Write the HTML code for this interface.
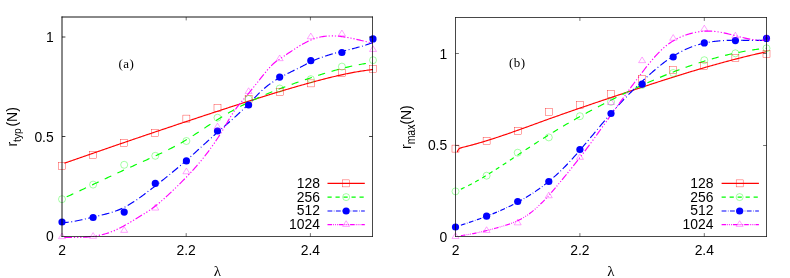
<!DOCTYPE html>
<html><head><meta charset="utf-8"><title>chart</title>
<style>
html,body{margin:0;padding:0;background:#fff;}
body{width:790px;height:278px;overflow:hidden;}
svg{display:block;will-change:transform;opacity:0.999;}
.s{font-family:"Liberation Sans",sans-serif;font-size:13.9px;fill:#000;}
.t{font-family:"Liberation Serif",serif;font-size:13px;letter-spacing:0.5px;fill:#000;}
.g{font-family:"Liberation Serif",serif;font-size:15px;fill:#000;}
</style></head><body>
<svg width="790" height="278" viewBox="0 0 790 278">
<rect width="790" height="278" fill="#fff"/>
<path d="M64.4,163.24 L65.6,162.82 L66.8,162.4 L68,161.98 L69.2,161.55 L70.4,161.13 L71.6,160.71 L72.8,160.29 L74,159.87 L75.2,159.45 L76.4,159.03 L77.6,158.61 L78.8,158.19 L80,157.77 L81.2,157.36 L82.4,156.94 L83.6,156.52 L84.8,156.1 L86,155.68 L87.2,155.26 L88.4,154.85 L89.6,154.43 L90.8,154.01 L92,153.6 L93.2,153.18 L94.4,152.76 L95.6,152.35 L96.8,151.93 L98,151.51 L99.2,151.1 L100.4,150.68 L101.6,150.27 L102.8,149.85 L104,149.44 L105.2,149.03 L106.4,148.61 L107.6,148.2 L108.8,147.78 L110,147.37 L111.2,146.96 L112.4,146.54 L113.6,146.13 L114.8,145.72 L116,145.31 L117.2,144.89 L118.4,144.48 L119.6,144.07 L120.8,143.66 L122,143.25 L123.2,142.84 L124.4,142.42 L125.6,142.01 L126.8,141.6 L128,141.19 L129.2,140.78 L130.4,140.37 L131.6,139.96 L132.8,139.56 L134,139.15 L135.2,138.74 L136.4,138.33 L137.6,137.92 L138.8,137.51 L140,137.1 L141.2,136.7 L142.4,136.29 L143.6,135.88 L144.8,135.48 L146,135.07 L147.2,134.66 L148.4,134.26 L149.6,133.85 L150.8,133.44 L152,133.04 L153.2,132.63 L154.4,132.23 L155.6,131.82 L156.8,131.42 L158,131.01 L159.2,130.61 L160.4,130.21 L161.6,129.8 L162.8,129.4 L164,128.99 L165.2,128.59 L166.4,128.19 L167.6,127.79 L168.8,127.38 L170,126.98 L171.2,126.58 L172.4,126.18 L173.6,125.78 L174.8,125.37 L176,124.97 L177.2,124.57 L178.4,124.17 L179.6,123.77 L180.8,123.37 L182,122.97 L183.2,122.57 L184.4,122.17 L185.6,121.77 L186.8,121.37 L188,120.98 L189.2,120.58 L190.4,120.18 L191.6,119.78 L192.8,119.38 L194,118.98 L195.2,118.59 L196.4,118.19 L197.6,117.79 L198.8,117.4 L200,117 L201.2,116.6 L202.4,116.21 L203.6,115.81 L204.8,115.42 L206,115.02 L207.2,114.63 L208.4,114.23 L209.6,113.84 L210.8,113.44 L212,113.05 L213.2,112.65 L214.4,112.26 L215.6,111.87 L216.8,111.47 L218,111.08 L219.2,110.69 L220.4,110.3 L221.6,109.9 L222.8,109.51 L224,109.12 L225.2,108.73 L226.4,108.34 L227.6,107.95 L228.8,107.56 L230,107.17 L231.2,106.78 L232.4,106.39 L233.6,106 L234.8,105.61 L236,105.22 L237.2,104.84 L238.4,104.45 L239.6,104.06 L240.8,103.68 L242,103.29 L243.2,102.91 L244.4,102.52 L245.6,102.14 L246.8,101.75 L248,101.37 L249.2,100.99 L250.4,100.61 L251.6,100.23 L252.8,99.85 L254,99.47 L255.2,99.09 L256.4,98.71 L257.6,98.34 L258.8,97.96 L260,97.58 L261.2,97.21 L262.4,96.83 L263.6,96.46 L264.8,96.09 L266,95.72 L267.2,95.35 L268.4,94.98 L269.6,94.61 L270.8,94.24 L272,93.87 L273.2,93.5 L274.4,93.14 L275.6,92.77 L276.8,92.41 L278,92.05 L279.2,91.69 L280.4,91.33 L281.6,90.97 L282.8,90.61 L284,90.25 L285.2,89.89 L286.4,89.54 L287.6,89.18 L288.8,88.83 L290,88.48 L291.2,88.13 L292.4,87.78 L293.6,87.43 L294.8,87.08 L296,86.73 L297.2,86.39 L298.4,86.05 L299.6,85.7 L300.8,85.36 L302,85.02 L303.2,84.68 L304.4,84.35 L305.6,84.01 L306.8,83.67 L308,83.34 L309.2,83.01 L310.4,82.68 L311.6,82.35 L312.8,82.02 L314,81.69 L315.2,81.37 L316.4,81.05 L317.6,80.73 L318.8,80.41 L320,80.09 L321.2,79.77 L322.4,79.46 L323.6,79.15 L324.8,78.84 L326,78.54 L327.2,78.24 L328.4,77.93 L329.6,77.64 L330.8,77.34 L332,77.05 L333.2,76.76 L334.4,76.48 L335.6,76.19 L336.8,75.92 L338,75.64 L339.2,75.37 L340.4,75.1 L341.6,74.83 L342.8,74.57 L344,74.32 L345.2,74.06 L346.4,73.81 L347.6,73.57 L348.8,73.33 L350,73.09 L351.2,72.86 L352.4,72.63 L353.6,72.41 L354.8,72.19 L356,71.98 L357.2,71.77 L358.4,71.57 L359.6,71.37 L360.8,71.18 L362,70.99 L363.2,70.81 L364.4,70.63 L365.6,70.46 L366.8,70.3 L368,70.14 L369.2,69.98 L370.4,69.83 L371.6,69.69 L372.8,69.56 L373,69.53" fill="none" stroke="#ff0000" stroke-width="1.15"/>
<path d="M66.7,196.84 L67.9,196.29 L69.1,195.73 L70.3,195.18 L71.5,194.62 L72.7,194.06 L73.3,193.78 M79.4,190.92 L80.6,190.36 L81.8,189.8 L83,189.23 L84.2,188.67 L85.4,188.1 L86,187.82 M92.1,184.94 L93.3,184.37 L94.5,183.81 L95.7,183.24 L96.9,182.67 L98.1,182.11 L98.6,181.87 M104.7,179 L105.9,178.44 L107.1,177.88 L108.3,177.31 L109.5,176.75 L110.7,176.19 L111.3,175.91 M117.4,173.08 L118.6,172.53 L119.8,171.98 L121,171.43 L122.2,170.88 L123.4,170.33 L124,170.06 M130.2,167.25 L131.4,166.71 L132.6,166.17 L133.8,165.64 L135,165.1 L136.2,164.56 L136.8,164.29 M142.9,161.55 L144.1,161.01 L145.3,160.47 L146.5,159.93 L147.7,159.38 L148.9,158.84 L149.5,158.57 M155.7,155.72 L156.9,155.16 L158.1,154.61 L159.3,154.04 L160.5,153.48 L161.7,152.91 L162.2,152.67 M168.3,149.69 L169.5,149.09 L170.7,148.48 L171.9,147.87 L173.1,147.25 L174.3,146.62 L174.8,146.36 M180.7,143.14 L181.9,142.46 L183.1,141.77 L184.3,141.06 L185.5,140.35 L186.7,139.63 L186.9,139.51 M192.7,135.89 L193.9,135.11 L195.1,134.33 L196.3,133.55 L197.5,132.76 L198.7,131.97 M204.4,128.17 L205.6,127.37 L206.8,126.57 L208,125.77 L209.2,124.97 L210.4,124.18 M216.1,120.47 L217.3,119.71 L218.5,118.95 L219.7,118.2 L220.9,117.46 L222.1,116.73 L222.2,116.67 M228,113.23 L229.2,112.54 L230.4,111.86 L231.6,111.18 L232.8,110.51 L234,109.85 L234.3,109.69 M240.3,106.48 L241.5,105.85 L242.7,105.24 L243.9,104.63 L245.1,104.02 L246.3,103.42 L246.7,103.23 M252.8,100.28 L254,99.72 L255.2,99.16 L256.4,98.61 L257.6,98.06 L258.8,97.52 L259.4,97.25 M265.6,94.54 L266.8,94.04 L268,93.53 L269.2,93.03 L270.4,92.53 L271.6,92.04 L272.3,91.76 M278.6,89.25 L279.8,88.79 L281,88.33 L282.2,87.87 L283.4,87.41 L284.6,86.96 L285.3,86.7 M291.7,84.36 L292.9,83.93 L294.1,83.51 L295.3,83.08 L296.5,82.66 L297.7,82.24 L298.5,81.96 M304.9,79.78 L306.1,79.38 L307.3,78.98 L308.5,78.58 L309.7,78.18 L310.9,77.79 L311.8,77.49 M318.2,75.42 L319.4,75.04 L320.6,74.66 L321.8,74.29 L323,73.91 L324.2,73.55 L325.1,73.27 M331.6,71.34 L332.8,70.99 L334,70.65 L335.2,70.31 L336.4,69.98 L337.6,69.65 L338.6,69.38 M345.1,67.7 L346.3,67.41 L347.5,67.12 L348.7,66.84 L349.9,66.56 L351.1,66.29 L352.2,66.05 M358.8,64.69 L360,64.47 L361.2,64.25 L362.4,64.04 L363.6,63.83 L364.8,63.64 L365.9,63.46 M372.6,62.53 L373,62.49" fill="none" stroke="#00ff00" stroke-width="1.15"/>
<path d="M64.4,222.6 L65.6,222.51 L66.8,222.4 L68,222.27 L68.7,222.19 M71.3,221.83 L72.2,221.69 M74.7,221.26 L75.9,221.03 L77.1,220.8 L78.3,220.55 L79.5,220.29 L80.7,220.03 L81.9,219.75 L82.4,219.64 M84.9,219.05 L85.7,218.86 M88.2,218.25 L89.4,217.96 L90.6,217.67 L91.8,217.38 L93,217.09 L94.2,216.81 L95.4,216.53 L95.8,216.44 M98.4,215.83 L99.2,215.65 M101.7,215.06 L102.9,214.76 L104.1,214.47 L105.3,214.16 L106.5,213.85 L107.7,213.53 L108.9,213.19 L109.3,213.08 M111.8,212.33 L112.6,212.07 M115.1,211.23 L116.3,210.8 L117.5,210.35 L118.7,209.87 L119.9,209.37 L121.1,208.85 L122.3,208.3 M124.6,207.18 L125.4,206.76 M127.7,205.5 L128.9,204.81 L130.1,204.09 L131.3,203.36 L132.5,202.6 L133.7,201.82 L134.3,201.43 M136.5,199.94 L137.2,199.46 M139.3,197.98 L140.5,197.11 L141.7,196.24 L142.9,195.36 L144.1,194.47 L145.3,193.57 L145.6,193.34 M147.6,191.83 L148.3,191.3 M150.4,189.7 L151.6,188.78 L152.8,187.86 L154,186.94 L155.2,186.01 L156.4,185.08 L156.6,184.92 M158.6,183.36 L159.3,182.81 M161.3,181.24 L162.5,180.29 L163.7,179.33 L164.9,178.37 L166.1,177.41 L167.3,176.44 L167.4,176.36 M169.5,174.66 L170.1,174.17 M172.1,172.53 L173.3,171.54 L174.5,170.54 L175.7,169.54 L176.9,168.53 L178.1,167.52 M180.1,165.82 L180.8,165.22 M182.7,163.59 L183.9,162.55 L185.1,161.51 L186.3,160.46 L187.5,159.4 L188.6,158.42 M190.5,156.73 L191.2,156.11 M193.1,154.4 L194.3,153.31 L195.5,152.23 L196.7,151.14 L197.9,150.05 L198.9,149.14 M200.8,147.41 L201.4,146.86 M203.4,145.04 L204.6,143.94 L205.8,142.85 L207,141.76 L208.2,140.66 L209.1,139.85 M211.1,138.04 L211.7,137.5 M213.6,135.79 L214.8,134.72 L216,133.65 L217.2,132.59 L218.4,131.53 L219.5,130.56 M221.4,128.9 L222.1,128.29 M224,126.64 L225.2,125.59 L226.4,124.55 L227.6,123.5 L228.8,122.46 L229.9,121.49 M231.9,119.73 L232.5,119.2 M234.5,117.42 L235.7,116.34 L236.9,115.25 L238.1,114.15 L239.3,113.04 L240.2,112.2 M242.1,110.41 L242.7,109.84 M244.6,108 L245.8,106.81 L247,105.62 L248.2,104.4 L249.4,103.17 L250.1,102.44 M251.9,100.56 L252.5,99.93 M254.3,98.04 L255.5,96.79 L256.7,95.56 L257.9,94.34 L259.1,93.15 L259.7,92.56 M261.6,90.76 L262.3,90.12 M264.2,88.46 L265.4,87.45 L266.6,86.48 L267.8,85.54 L269,84.64 L270.2,83.76 L270.4,83.62 M272.5,82.16 L273.2,81.69 M275.4,80.28 L276.6,79.54 L277.8,78.82 L279,78.12 L280.2,77.44 L281.4,76.77 L282.2,76.34 M284.4,75.17 L285.2,74.76 M287.5,73.59 L288.7,72.99 L289.9,72.39 L291.1,71.8 L292.3,71.22 L293.5,70.63 L294.5,70.14 M296.9,68.96 L297.6,68.61 M300,67.41 L301.2,66.79 L302.4,66.17 L303.6,65.54 L304.8,64.91 L306,64.27 L306.9,63.81 M309.2,62.63 L310,62.23 M312.3,61.14 L313.5,60.59 L314.7,60.07 L315.9,59.56 L317.1,59.06 L318.3,58.58 L319.5,58.12 M321.9,57.24 L322.8,56.92 M325.2,56.1 L326.4,55.71 L327.6,55.33 L328.8,54.96 L330,54.6 L331.2,54.25 L332.4,53.91 L332.7,53.83 M335.2,53.14 L336,52.92 M338.5,52.27 L339.7,51.96 L340.9,51.65 L342.1,51.35 L343.3,51.05 L344.5,50.76 L345.7,50.46 L346.1,50.36 M348.6,49.74 L349.5,49.52 M352,48.89 L353.2,48.58 L354.4,48.27 L355.6,47.96 L356.8,47.64 L358,47.31 L359.2,46.98 L359.5,46.9 M362,46.18 L362.8,45.94 M365.3,45.18 L366.5,44.79 L367.7,44.4 L368.9,43.99 L370.1,43.57 L371.3,43.14 L372.5,42.7 L372.7,42.62" fill="none" stroke="#0000ff" stroke-width="1.15"/>
<path d="M64.4,237.41 L65.6,237.44 L66.8,237.46 L68,237.49 L69.2,237.51 L70.4,237.52 L71.6,237.53 L72,237.54 M73.9,237.54 L75.1,237.54 M77.1,237.52 L78.3,237.5 M80.2,237.44 L81.4,237.4 M83.2,237.32 L84.4,237.25 L85.6,237.17 L86.8,237.08 L88,236.98 L89.2,236.86 L90.4,236.73 L90.7,236.7 M92.6,236.46 L93.8,236.3 M95.7,236 L96.9,235.79 L97,235.77 M98.8,235.43 L100,235.18 M101.8,234.77 L103,234.47 L104.2,234.15 L105.4,233.82 L106.6,233.46 L107.8,233.08 L109,232.68 M110.8,232.04 L112,231.58 M113.8,230.86 L114.9,230.39 M116.6,229.62 L117.7,229.1 M119.3,228.31 L120.5,227.7 L121.7,227.07 L122.9,226.43 L124.1,225.77 L125.3,225.1 L125.9,224.76 M127.6,223.78 L128.7,223.13 M130.3,222.18 L131.4,221.52 M133,220.56 L134.1,219.89 M135.6,218.97 L136.8,218.24 L138,217.51 L139.2,216.77 L140.4,216.05 L141.6,215.32 L142,215.07 M143.7,214.03 L144.7,213.41 M146.3,212.4 L147.4,211.69 M149,210.64 L150,209.96 M151.5,208.92 L152.7,208.05 L153.9,207.17 L155.1,206.25 L156.3,205.31 L157.4,204.43 M158.9,203.19 L159.9,202.35 M161.3,201.15 L162.2,200.36 M163.7,199.03 L164.6,198.23 M165.9,197.04 L167.1,195.94 L168.3,194.82 L169.5,193.7 L170.7,192.56 L171.4,191.89 M172.8,190.56 L173.7,189.69 M175.1,188.35 L175.9,187.57 M177.4,186.12 L178.2,185.34 M179.5,184.06 L180.7,182.87 L181.9,181.68 L183.1,180.47 L184.3,179.26 L184.8,178.75 M186.2,177.31 L187,176.48 M188.3,175.12 L189.2,174.17 M190.5,172.78 L191.3,171.92 M192.5,170.61 L193.7,169.28 L194.9,167.94 L196.1,166.58 L197.3,165.2 L197.5,164.97 M198.8,163.45 L199.5,162.62 M200.8,161.06 L201.5,160.21 M202.8,158.61 L203.5,157.74 M204.7,156.23 L205.9,154.69 L207.1,153.12 L208.3,151.53 L209.2,150.32 M210.4,148.68 L211,147.85 M212.2,146.17 L212.9,145.18 M214,143.59 L214.7,142.57 M215.7,141.1 L216.9,139.29 L218.1,137.46 L219.3,135.59 L219.8,134.8 M220.8,133.21 L221.4,132.24 M222.5,130.44 L223.1,129.45 M224.1,127.77 L224.7,126.75 M225.6,125.22 L226.8,123.17 L228,121.11 L229.2,119.08 L229.4,118.75 M230.4,117.09 L231,116.1 M232.1,114.34 L232.7,113.41 M233.8,111.74 L234.5,110.72 M235.5,109.32 L236.7,107.71 L237.9,106.17 L239.1,104.69 L240.2,103.36 M241.4,101.94 L242.2,100.99 M243.5,99.45 L244.2,98.62 M245.5,97.07 L246.3,96.11 M247.4,94.79 L248.6,93.34 L249.8,91.89 L251,90.43 L252.2,88.96 M253.4,87.48 L254.2,86.49 M255.4,85.01 L256.1,84.14 M257.4,82.51 L258.1,81.64 M259.2,80.25 L260.4,78.73 L261.6,77.21 L262.8,75.7 L263.9,74.31 M265.1,72.83 L265.9,71.85 M267.1,70.41 L267.9,69.47 M269.2,67.99 L270,67.11 M271.2,65.84 L272.4,64.64 L273.6,63.51 L274.8,62.47 L276,61.51 L276.9,60.85 M278.5,59.76 L279.5,59.11 M281.1,58.07 L282.1,57.41 M283.8,56.28 L284.8,55.61 M286.2,54.66 L287.4,53.84 L288.6,53.03 L289.8,52.22 L291,51.41 L292.2,50.61 L292.5,50.41 M294.1,49.36 L295.1,48.71 M296.7,47.69 L297.8,47 M299.4,46.02 L300.5,45.37 M302,44.5 L303.2,43.82 L304.4,43.17 L305.6,42.53 L306.8,41.93 L308,41.34 L308.7,41.01 M310.4,40.25 L311.6,39.75 M313.4,39.05 L314.5,38.66 M316.4,38.06 L317.5,37.74 M319.2,37.31 L320.4,37.04 L321.6,36.81 L322.8,36.6 L324,36.43 L325.2,36.28 L326.4,36.16 L326.7,36.13 M328.6,36 L329.8,35.95 M331.8,35.92 L333,35.93 M334.9,35.99 L336.1,36.05 M337.9,36.18 L339.1,36.3 L340.3,36.42 L341.5,36.57 L342.7,36.72 L343.9,36.9 L345.1,37.08 L345.4,37.13 M347.3,37.46 L348.5,37.68 M350.4,38.04 L351.6,38.29 M353.4,38.67 L354.6,38.93 M356.4,39.33 L357.6,39.61 L358.8,39.89 L360,40.17 L361.2,40.45 L362.4,40.73 L363.6,41.01 L363.7,41.04 M365.6,41.48 L366.8,41.76 M368.7,42.19 L369.8,42.44 M371.7,42.85 L372.9,43.11" fill="none" stroke="#ff00ff" stroke-width="1.15"/>
<rect x="58.5" y="162.55" width="7" height="7" fill="none" stroke="#ff0000" stroke-width="0.36"/>
<rect x="89.6" y="151.8" width="7" height="7" fill="none" stroke="#ff0000" stroke-width="0.36"/>
<rect x="120.7" y="139.7" width="7" height="7" fill="none" stroke="#ff0000" stroke-width="0.36"/>
<rect x="151.8" y="129.65" width="7" height="7" fill="none" stroke="#ff0000" stroke-width="0.36"/>
<rect x="182.9" y="115.1" width="7" height="7" fill="none" stroke="#ff0000" stroke-width="0.36"/>
<rect x="214" y="104.3" width="7" height="7" fill="none" stroke="#ff0000" stroke-width="0.36"/>
<rect x="245.1" y="95.2" width="7" height="7" fill="none" stroke="#ff0000" stroke-width="0.36"/>
<rect x="276.2" y="88.4" width="7" height="7" fill="none" stroke="#ff0000" stroke-width="0.36"/>
<rect x="307.3" y="79.9" width="7" height="7" fill="none" stroke="#ff0000" stroke-width="0.36"/>
<rect x="338.4" y="69.5" width="7" height="7" fill="none" stroke="#ff0000" stroke-width="0.36"/>
<rect x="369.5" y="65.4" width="7" height="7" fill="none" stroke="#ff0000" stroke-width="0.36"/>
<circle cx="62" cy="199.2" r="3.5" fill="none" stroke="#00ff00" stroke-width="0.36"/>
<circle cx="93.1" cy="184.6" r="3.5" fill="none" stroke="#00ff00" stroke-width="0.36"/>
<circle cx="124.2" cy="164.8" r="3.5" fill="none" stroke="#00ff00" stroke-width="0.36"/>
<circle cx="155.3" cy="155.8" r="3.5" fill="none" stroke="#00ff00" stroke-width="0.36"/>
<circle cx="186.4" cy="141" r="3.5" fill="none" stroke="#00ff00" stroke-width="0.36"/>
<circle cx="217.5" cy="117.7" r="3.5" fill="none" stroke="#00ff00" stroke-width="0.36"/>
<circle cx="248.6" cy="99" r="3.5" fill="none" stroke="#00ff00" stroke-width="0.36"/>
<circle cx="279.7" cy="88.5" r="3.5" fill="none" stroke="#00ff00" stroke-width="0.36"/>
<circle cx="310.8" cy="79.2" r="3.5" fill="none" stroke="#00ff00" stroke-width="0.36"/>
<circle cx="341.9" cy="66.6" r="3.5" fill="none" stroke="#00ff00" stroke-width="0.36"/>
<circle cx="373" cy="60.2" r="3.5" fill="none" stroke="#00ff00" stroke-width="0.36"/>
<circle cx="62" cy="222" r="3.6" fill="#0000ff"/>
<circle cx="93.1" cy="217.5" r="3.6" fill="#0000ff"/>
<circle cx="124.2" cy="212.1" r="3.6" fill="#0000ff"/>
<circle cx="155.3" cy="183.4" r="3.6" fill="#0000ff"/>
<circle cx="186.4" cy="160.9" r="3.6" fill="#0000ff"/>
<circle cx="217.5" cy="131" r="3.6" fill="#0000ff"/>
<circle cx="248.6" cy="105" r="3.6" fill="#0000ff"/>
<circle cx="279.7" cy="77.1" r="3.6" fill="#0000ff"/>
<circle cx="310.8" cy="60.7" r="3.6" fill="#0000ff"/>
<circle cx="341.9" cy="52.5" r="3.6" fill="#0000ff"/>
<circle cx="373" cy="38.9" r="3.6" fill="#0000ff"/>
<path d="M62,232.98 L58.5,238.65 L65.5,238.65 Z" fill="none" stroke="#ff00ff" stroke-width="0.36"/>
<path d="M93.1,232.58 L89.6,238.25 L96.6,238.25 Z" fill="none" stroke="#ff00ff" stroke-width="0.36"/>
<path d="M124.2,226.68 L120.7,232.35 L127.7,232.35 Z" fill="none" stroke="#ff00ff" stroke-width="0.36"/>
<path d="M155.3,204.38 L151.8,210.05 L158.8,210.05 Z" fill="none" stroke="#ff00ff" stroke-width="0.36"/>
<path d="M186.4,168.08 L182.9,173.75 L189.9,173.75 Z" fill="none" stroke="#ff00ff" stroke-width="0.36"/>
<path d="M217.5,123.18 L214,128.85 L221,128.85 Z" fill="none" stroke="#ff00ff" stroke-width="0.36"/>
<path d="M248.6,87.78 L245.1,93.45 L252.1,93.45 Z" fill="none" stroke="#ff00ff" stroke-width="0.36"/>
<path d="M279.7,54.98 L276.2,60.65 L283.2,60.65 Z" fill="none" stroke="#ff00ff" stroke-width="0.36"/>
<path d="M310.8,33.08 L307.3,38.75 L314.3,38.75 Z" fill="none" stroke="#ff00ff" stroke-width="0.36"/>
<path d="M341.9,30.08 L338.4,35.75 L345.4,35.75 Z" fill="none" stroke="#ff00ff" stroke-width="0.36"/>
<path d="M373,45.78 L369.5,51.45 L376.5,51.45 Z" fill="none" stroke="#ff00ff" stroke-width="0.36"/>
<path d="M327.5,183.4 H364.8" fill="none" stroke="#ff0000" stroke-width="1.15"/>
<rect x="342.65" y="179.9" width="7" height="7" fill="none" stroke="#ff0000" stroke-width="0.36"/>
<text x="320" y="188" text-anchor="end" class="s">128</text>
<path d="M327.5,197.1 H364.8" fill="none" stroke="#00ff00" stroke-width="1.15" stroke-dasharray="4.2 3.8"/>
<circle cx="346.15" cy="197.1" r="3.5" fill="none" stroke="#00ff00" stroke-width="0.36"/>
<text x="320" y="201.7" text-anchor="end" class="s">256</text>
<path d="M327.5,211 H364.8" fill="none" stroke="#0000ff" stroke-width="1.15" stroke-dasharray="4.8 1.5 0.6 1.5"/>
<circle cx="346.15" cy="211" r="3.6" fill="#0000ff"/>
<text x="320" y="215.4" text-anchor="end" class="s">512</text>
<path d="M327.5,224.65 H364.8" fill="none" stroke="#ff00ff" stroke-width="1.15" stroke-dasharray="4.6 1.1 0.8 1.1 0.8 1.1 0.8 1"/>
<path d="M346.15,220.73 L342.65,226.4 L349.65,226.4 Z" fill="none" stroke="#ff00ff" stroke-width="0.36"/>
<text x="320" y="229.1" text-anchor="end" class="s">1024</text>
<path d="M62,16.54 V236.86" stroke="#000" stroke-width="0.93" fill="none"/>
<path d="M61.53,17 H372.86" stroke="#000" stroke-width="0.93" fill="none"/>
<path d="M372.5,16.54 V236.86" stroke="#000" stroke-width="0.72" fill="none"/>
<path d="M61.53,236.5 H372.86" stroke="#000" stroke-width="0.72" fill="none"/>
<text x="62" y="255" text-anchor="middle" class="s">2</text>
<path d="M186.2,236.5 v-3.4 M186.2,17 v3.4" stroke="#000" stroke-width="0.55" fill="none"/>
<text x="186.2" y="255" text-anchor="middle" class="s">2.2</text>
<path d="M310.4,236.5 v-3.4 M310.4,17 v3.4" stroke="#000" stroke-width="0.55" fill="none"/>
<text x="310.4" y="255" text-anchor="middle" class="s">2.4</text>
<text x="53.7" y="241" text-anchor="end" class="s">0</text>
<path d="M62,136.5 h3.4 M372.5,136.5 h-3.4" stroke="#000" stroke-width="0.75" fill="none"/>
<text x="53.7" y="142" text-anchor="end" class="s">0.5</text>
<path d="M62,37 h3.4 M372.5,37 h-3.4" stroke="#000" stroke-width="0.75" fill="none"/>
<text x="53.7" y="42" text-anchor="end" class="s">1</text>
<text x="217.5" y="276" text-anchor="middle" class="g">λ</text>
<g transform="translate(17,146.6) rotate(-90)"><text x="0" y="0" class="s">r</text><text transform="translate(4.63,4.1) scale(1,1.13)" class="s" style="font-size:10.4px">typ</text><text x="20.1" y="0" class="s">(N)</text></g>
<text x="118.5" y="68" class="t">(a)</text>
<path d="M457.3,152.2 L457.5,151.5 L457.7,150.8 L458.05,150.15 L458.4,149.5 L458.95,148.95 L459.5,148.4 L460.2,148.08 L461.7,147.58 L462.9,147.29 L464.1,147 L465.3,146.7 L466.5,146.4 L467.7,146.1 L468.9,145.79 L470.1,145.47 L471.3,145.15 L472.5,144.83 L473.7,144.5 L474.9,144.17 L476.1,143.83 L477.3,143.49 L478.5,143.15 L479.7,142.8 L480.9,142.45 L482.1,142.09 L483.3,141.73 L484.5,141.37 L485.7,141.01 L486.9,140.64 L488.1,140.26 L489.3,139.89 L490.5,139.51 L491.7,139.13 L492.9,138.74 L494.1,138.36 L495.3,137.96 L496.5,137.57 L497.7,137.18 L498.9,136.78 L500.1,136.38 L501.3,135.97 L502.5,135.57 L503.7,135.16 L504.9,134.75 L506.1,134.34 L507.3,133.92 L508.5,133.51 L509.7,133.09 L510.9,132.67 L512.1,132.25 L513.3,131.83 L514.5,131.4 L515.7,130.98 L516.9,130.55 L518.1,130.12 L519.3,129.7 L520.5,129.27 L521.7,128.83 L522.9,128.4 L524.1,127.97 L525.3,127.54 L526.5,127.1 L527.7,126.67 L528.9,126.23 L530.1,125.8 L531.3,125.36 L532.5,124.92 L533.7,124.49 L534.9,124.05 L536.1,123.61 L537.3,123.18 L538.5,122.74 L539.7,122.31 L540.9,121.87 L542.1,121.43 L543.3,121 L544.5,120.56 L545.7,120.13 L546.9,119.7 L548.1,119.27 L549.3,118.83 L550.5,118.4 L551.7,117.98 L552.9,117.55 L554.1,117.12 L555.3,116.69 L556.5,116.27 L557.7,115.84 L558.9,115.42 L560.1,114.99 L561.3,114.57 L562.5,114.15 L563.7,113.73 L564.9,113.31 L566.1,112.89 L567.3,112.47 L568.5,112.05 L569.7,111.63 L570.9,111.22 L572.1,110.8 L573.3,110.38 L574.5,109.97 L575.7,109.55 L576.9,109.14 L578.1,108.73 L579.3,108.31 L580.5,107.9 L581.7,107.49 L582.9,107.08 L584.1,106.67 L585.3,106.26 L586.5,105.85 L587.7,105.44 L588.9,105.03 L590.1,104.62 L591.3,104.21 L592.5,103.8 L593.7,103.4 L594.9,102.99 L596.1,102.58 L597.3,102.18 L598.5,101.77 L599.7,101.36 L600.9,100.96 L602.1,100.55 L603.3,100.15 L604.5,99.74 L605.7,99.34 L606.9,98.93 L608.1,98.53 L609.3,98.13 L610.5,97.72 L611.7,97.32 L612.9,96.91 L614.1,96.51 L615.3,96.11 L616.5,95.7 L617.7,95.3 L618.9,94.9 L620.1,94.49 L621.3,94.09 L622.5,93.69 L623.7,93.29 L624.9,92.89 L626.1,92.48 L627.3,92.08 L628.5,91.68 L629.7,91.28 L630.9,90.88 L632.1,90.48 L633.3,90.08 L634.5,89.68 L635.7,89.29 L636.9,88.89 L638.1,88.49 L639.3,88.09 L640.5,87.7 L641.7,87.3 L642.9,86.9 L644.1,86.51 L645.3,86.11 L646.5,85.72 L647.7,85.33 L648.9,84.93 L650.1,84.54 L651.3,84.15 L652.5,83.76 L653.7,83.37 L654.9,82.98 L656.1,82.59 L657.3,82.2 L658.5,81.81 L659.7,81.43 L660.9,81.04 L662.1,80.65 L663.3,80.27 L664.5,79.89 L665.7,79.5 L666.9,79.12 L668.1,78.74 L669.3,78.36 L670.5,77.98 L671.7,77.6 L672.9,77.22 L674.1,76.85 L675.3,76.47 L676.5,76.09 L677.7,75.72 L678.9,75.35 L680.1,74.97 L681.3,74.6 L682.5,74.23 L683.7,73.86 L684.9,73.5 L686.1,73.13 L687.3,72.76 L688.5,72.4 L689.7,72.03 L690.9,71.67 L692.1,71.31 L693.3,70.95 L694.5,70.59 L695.7,70.23 L696.9,69.88 L698.1,69.52 L699.3,69.17 L700.5,68.81 L701.7,68.46 L702.9,68.11 L704.1,67.76 L705.3,67.41 L706.5,67.07 L707.7,66.72 L708.9,66.38 L710.1,66.03 L711.3,65.69 L712.5,65.35 L713.7,65.01 L714.9,64.68 L716.1,64.34 L717.3,64.01 L718.5,63.68 L719.7,63.34 L720.9,63.02 L722.1,62.69 L723.3,62.36 L724.5,62.04 L725.7,61.71 L726.9,61.39 L728.1,61.07 L729.3,60.75 L730.5,60.44 L731.7,60.12 L732.9,59.81 L734.1,59.49 L735.3,59.18 L736.5,58.88 L737.7,58.57 L738.9,58.26 L740.1,57.96 L741.3,57.66 L742.5,57.36 L743.7,57.06 L744.9,56.77 L746.1,56.47 L747.3,56.18 L748.5,55.89 L749.7,55.6 L750.9,55.31 L752.1,55.03 L753.3,54.74 L754.5,54.46 L755.7,54.18 L756.9,53.91 L758.1,53.63 L759.3,53.36 L760.5,53.09 L761.7,52.82 L762.9,52.55 L764.1,52.29 L765.3,52.02 L766.5,51.76" fill="none" stroke="#ff0000" stroke-width="1.15"/>
<path d="M460.9,189.17 L462.1,188.61 L463.3,188.05 L464.5,187.47 L464.6,187.43 M468.2,185.64 L469.4,185.02 L470.6,184.39 L471.8,183.76 M475.2,181.91 L476.4,181.24 L477.6,180.57 L478.8,179.88 M482.2,177.91 L483.4,177.19 L484.6,176.48 L485.7,175.81 M489,173.79 L490.2,173.05 L491.4,172.29 L492.5,171.6 M495.8,169.5 L497,168.73 L498.2,167.96 L499.3,167.24 M502.7,165.02 L503.9,164.23 L505.1,163.44 L506.3,162.65 M509.9,160.25 L511.1,159.45 L512.3,158.65 L513.5,157.85 L513.8,157.65 M517.5,155.18 L518.7,154.38 L519.9,153.58 L521.1,152.79 L521.6,152.45 M525.6,149.8 L526.8,149.01 L528,148.21 L529.2,147.42 L529.9,146.96 M534.1,144.22 L535.3,143.44 L536.5,142.66 L537.7,141.88 L538.7,141.24 M543.1,138.42 L544.3,137.66 L545.5,136.91 L546.7,136.15 L547.9,135.4 L548,135.34 M552.8,132.37 L554,131.64 L555.2,130.91 L556.4,130.18 L557.6,129.46 L558,129.22 M563.1,126.19 L564.3,125.48 L565.5,124.78 L566.7,124.08 L567.9,123.39 L568.6,122.98 M574,119.9 L575.2,119.22 L576.4,118.55 L577.6,117.87 L578.8,117.2 L580,116.54 M585.7,113.41 L586.9,112.76 L588.1,112.11 L589.3,111.46 L590.5,110.82 L591.7,110.17 L592,110.01 M597.9,106.9 L599.1,106.27 L600.3,105.64 L601.5,105.02 L602.7,104.4 L603.9,103.78 L604.2,103.62 M610.1,100.61 L611.3,100 L612.5,99.39 L613.7,98.79 L614.9,98.19 L616.1,97.59 L616.5,97.39 M622.4,94.48 L623.6,93.89 L624.8,93.31 L626,92.73 L627.2,92.15 L628.4,91.58 L628.8,91.38 M634.8,88.54 L636,87.98 L637.2,87.43 L638.4,86.87 L639.6,86.32 L640.8,85.77 L641.3,85.54 M647.4,82.79 L648.6,82.26 L649.8,81.73 L651,81.2 L652.2,80.68 L653.4,80.16 L653.9,79.94 M660,77.35 L661.2,76.85 L662.4,76.35 L663.6,75.86 L664.8,75.36 L666,74.88 L666.6,74.63 M672.7,72.21 L673.9,71.75 L675.1,71.28 L676.3,70.82 L677.5,70.37 L678.7,69.92 L679.4,69.65 M685.6,67.38 L686.8,66.96 L688,66.53 L689.2,66.11 L690.4,65.7 L691.6,65.28 L692.3,65.04 M698.6,62.95 L699.8,62.57 L701,62.19 L702.2,61.81 L703.4,61.43 L704.6,61.06 L705.4,60.82 M711.8,58.93 L713,58.59 L714.2,58.26 L715.4,57.93 L716.6,57.6 L717.8,57.28 L718.7,57.04 M725.1,55.41 L726.3,55.12 L727.5,54.83 L728.7,54.55 L729.9,54.28 L731.1,54 L732,53.8 M738.5,52.43 L739.7,52.2 L740.9,51.96 L742.1,51.74 L743.3,51.51 L744.5,51.3 L745.5,51.12 M752.1,50.04 L753.3,49.86 L754.5,49.68 L755.7,49.51 L756.9,49.35 L758.1,49.19 L759.1,49.06 M765.7,48.31 L766.5,48.23" fill="none" stroke="#00ff00" stroke-width="1.15"/>
<path d="M460.9,225.22 L462.1,224.82 L463.3,224.42 L464.5,224.02 L465.4,223.72 M466.9,223.22 L467.4,223.05 M468.9,222.54 L470.1,222.14 L471.3,221.72 L472.5,221.31 L473.4,221 M474.9,220.48 L475.3,220.34 M476.9,219.78 L478.1,219.35 L479.3,218.92 L480.5,218.49 L481.3,218.2 M482.8,217.65 L483.2,217.5 M484.7,216.94 L485.9,216.49 L487.1,216.03 L488.3,215.57 L489.1,215.26 M490.6,214.67 L491.1,214.47 M492.6,213.87 L493.8,213.38 L495,212.89 L496.2,212.39 L496.9,212.1 M498.4,211.46 L498.9,211.25 M500.4,210.6 L501.6,210.07 L502.8,209.53 L504,208.99 L504.9,208.57 M506.5,207.83 L507,207.59 M508.6,206.83 L509.8,206.25 L511,205.66 L512.2,205.06 L513.3,204.5 M515,203.62 L515.5,203.36 M517.1,202.51 L518.3,201.87 L519.5,201.21 L520.7,200.54 L521.9,199.87 L522,199.81 M523.7,198.83 L524.3,198.48 M525.9,197.53 L527.1,196.8 L528.3,196.07 L529.5,195.32 L530.7,194.55 L531,194.36 M532.7,193.26 L533.3,192.86 M535,191.72 L536.2,190.9 L537.4,190.07 L538.6,189.22 L539.8,188.36 L540.2,188.07 M541.9,186.81 L542.5,186.37 M544.2,185.07 L545.4,184.14 L546.6,183.2 L547.8,182.23 L549,181.26 L549.4,180.93 M551.2,179.42 L551.7,179 M553.5,177.44 L554.7,176.39 L555.9,175.31 L557.1,174.22 L558.3,173.11 L558.7,172.74 M560.4,171.13 L561,170.55 M562.7,168.89 L563.9,167.69 L565.1,166.48 L566.3,165.24 L567.5,163.99 L567.8,163.68 M569.6,161.76 L570.1,161.22 M571.8,159.38 L573,158.05 L574.2,156.72 L575.4,155.37 L576.6,154.01 L577,153.55 M578.7,151.6 L579.3,150.91 M581,148.93 L582.2,147.53 L583.4,146.12 L584.6,144.7 L585.8,143.27 L586.2,142.8 M587.9,140.77 L588.5,140.05 M590.3,137.89 L591.5,136.45 L592.7,135.01 L593.9,133.57 L595.1,132.13 L595.4,131.76 M597.2,129.6 L597.7,129 M599.5,126.85 L600.7,125.42 L601.9,123.99 L603.1,122.57 L604.3,121.16 L604.7,120.69 M606.5,118.58 L607.1,117.88 M608.9,115.81 L610.1,114.43 L611.3,113.07 L612.5,111.72 L613.7,110.38 L614.2,109.82 M616.1,107.73 L616.7,107.07 M618.5,105.12 L619.7,103.83 L620.9,102.56 L622.1,101.29 L623.3,100.03 L624.1,99.2 M626,97.23 L626.6,96.62 M628.5,94.68 L629.7,93.47 L630.9,92.27 L632.1,91.08 L633.3,89.89 L634.3,88.91 M636.2,87.06 L636.9,86.38 M638.8,84.56 L640,83.42 L641.2,82.28 L642.4,81.15 L643.6,80.03 L644.7,79.01 M646.7,77.17 L647.4,76.53 M649.4,74.72 L650.6,73.65 L651.8,72.59 L653,71.54 L654.2,70.5 L655.4,69.48 L655.5,69.39 M657.6,67.64 L658.3,67.06 M660.4,65.36 L661.6,64.41 L662.8,63.47 L664,62.56 L665.2,61.66 L666.4,60.77 L666.9,60.41 M669.1,58.86 L669.8,58.38 M672.1,56.84 L673.3,56.07 L674.5,55.33 L675.7,54.6 L676.9,53.9 L678.1,53.21 L679.1,52.66 M681.4,51.44 L682.3,50.98 M684.7,49.82 L685.9,49.26 L687.1,48.73 L688.3,48.22 L689.5,47.72 L690.7,47.25 L691.9,46.79 L692.2,46.68 M694.7,45.79 L695.6,45.49 M698.2,44.68 L699.4,44.34 L700.6,44.01 L701.8,43.7 L703,43.4 L704.2,43.13 L705.4,42.86 L706.1,42.72 M708.7,42.22 L709.6,42.07 M712.3,41.65 L713.5,41.49 L714.7,41.34 L715.9,41.2 L717.1,41.07 L718.3,40.95 L719.5,40.85 L720.4,40.78 M723.1,40.59 L724,40.54 M726.7,40.42 L727.9,40.38 L729.1,40.34 L730.3,40.32 L731.5,40.29 L732.7,40.28 L733.9,40.27 L734.8,40.26 M737.5,40.26 L738.4,40.26 M741.1,40.28 L742.3,40.29 L743.5,40.31 L744.7,40.32 L745.9,40.34 L747.1,40.35 L748.3,40.37 L749.3,40.38 M751.9,40.4 L752.9,40.41 M755.6,40.42 L756.8,40.42 L758,40.41 L759.2,40.4 L760.4,40.38 L761.6,40.36 L762.8,40.34 L763.7,40.31 M766.4,40.21 L766.5,40.21" fill="none" stroke="#0000ff" stroke-width="1.15"/>
<path d="M460.9,235.61 L462.1,235.45 L463.3,235.28 L464.5,235.1 L465.4,234.96 M466.6,234.77 L467.3,234.65 M468.5,234.45 L469.2,234.33 M470.3,234.13 L471,234 M472.1,233.8 L473.3,233.57 L474.5,233.33 L475.7,233.08 L476.5,232.92 M477.7,232.66 L478.4,232.51 M479.5,232.27 L480.2,232.11 M481.4,231.84 L482.1,231.67 M483.2,231.42 L484.4,231.13 L485.6,230.84 L486.8,230.54 L487.5,230.36 M488.7,230.06 L489.4,229.88 M490.5,229.59 L491.2,229.41 M492.4,229.09 L493,228.93 M494.1,228.63 L495.3,228.3 L496.5,227.97 L497.7,227.63 L498.5,227.4 M499.7,227.06 L500.4,226.86 M501.6,226.51 L502.3,226.3 M503.5,225.95 L504.2,225.73 M505.3,225.4 L506.5,225.02 L507.7,224.63 L508.9,224.22 L510,223.84 M511.3,223.37 L512,223.11 M513.3,222.6 L514,222.32 M515.3,221.78 L516.1,221.43 M517.2,220.93 L518.4,220.37 L519.6,219.77 L520.8,219.15 L522,218.5 M523.3,217.75 L524,217.33 M525.3,216.53 L526,216.07 M527.2,215.27 L528,214.71 M529.1,213.92 L530.3,213.02 L531.5,212.09 L532.7,211.13 L533.6,210.38 M534.8,209.36 L535.5,208.75 M536.7,207.69 L537.4,207.05 M538.6,205.93 L539.3,205.27 M540.4,204.21 L541.6,203.03 L542.8,201.82 L544,200.58 L544.7,199.85 M545.9,198.58 L546.5,197.94 M547.7,196.63 L548.3,195.97 M549.5,194.64 L550.2,193.85 M551.2,192.71 L552.4,191.34 L553.6,189.94 L554.8,188.54 L555.5,187.71 M556.6,186.4 L557.3,185.57 M558.5,184.13 L559.1,183.41 M560.3,181.95 L561,181.11 M562,179.89 L563.2,178.42 L564.4,176.96 L565.6,175.49 L566.5,174.39 M567.6,173.04 L568.3,172.17 M569.5,170.69 L570.2,169.83 M571.4,168.34 L572.2,167.35 M573.3,165.97 L574.5,164.47 L575.7,162.96 L576.9,161.43 L577.9,160.16 M579.1,158.62 L579.8,157.72 M581,156.17 L581.7,155.26 M583,153.55 L583.7,152.63 M584.8,151.17 L586,149.57 L587.2,147.96 L588.4,146.34 L589.5,144.85 M590.7,143.22 L591.4,142.26 M592.6,140.62 L593.3,139.66 M594.5,138 L595.2,137.03 M596.3,135.51 L597.5,133.84 L598.7,132.18 L599.9,130.5 L600.9,129.11 M602.1,127.43 L602.8,126.45 M604,124.78 L604.7,123.8 M605.9,122.12 L606.6,121.14 M607.7,119.59 L608.9,117.91 L610.1,116.23 L611.3,114.55 L612.2,113.29 M613.4,111.61 L614.1,110.63 M615.3,108.95 L616,107.98 M617.2,106.3 L617.9,105.33 M619,103.79 L620.2,102.13 L621.4,100.46 L622.6,98.8 L623.5,97.55 M624.7,95.9 L625.4,94.93 M626.6,93.28 L627.3,92.32 M628.5,90.68 L629.3,89.59 M630.4,88.09 L631.6,86.46 L632.8,84.83 L634,83.22 L635,81.87 M636.2,80.27 L636.9,79.33 M638.2,77.61 L638.9,76.68 M640.2,74.97 L640.9,74.05 M642,72.61 L643.2,71.05 L644.4,69.5 L645.6,67.96 L646.8,66.43 M648.1,64.8 L648.8,63.93 M650.1,62.34 L650.9,61.37 M652.2,59.82 L653,58.88 M654.2,57.5 L655.4,56.15 L656.6,54.83 L657.8,53.54 L659,52.3 L659.5,51.79 M661,50.31 L661.9,49.45 M663.4,48.08 L664.3,47.3 M665.8,46.04 L666.8,45.24 M668.3,44.11 L669.5,43.24 L670.7,42.42 L671.9,41.64 L673.1,40.89 L674.3,40.19 L674.8,39.9 M676.6,38.93 L677.7,38.37 M679.5,37.51 L680.7,36.98 M682.5,36.24 L683.7,35.77 M685.4,35.16 L686.6,34.75 L687.8,34.37 L689,34.01 L690.2,33.67 L691.4,33.34 L692.6,33.04 L692.9,32.97 M694.9,32.52 L696.1,32.28 M698.1,31.93 L699.3,31.75 L699.4,31.73 M701.3,31.49 L702.5,31.37 L702.6,31.36 M704.4,31.22 L705.6,31.15 L706.8,31.11 L708,31.09 L709.2,31.1 L710.4,31.13 L711.6,31.18 L712.2,31.21 M714.2,31.37 L715.4,31.5 L715.5,31.51 M717.5,31.77 L718.7,31.95 M720.7,32.29 L721.9,32.51 M723.7,32.87 L724.9,33.13 L726.1,33.4 L727.3,33.67 L728.5,33.96 L729.7,34.25 L730.9,34.55 L731.3,34.65 M733.3,35.16 L734.5,35.47 M736.4,35.96 L737.6,36.27 M739.6,36.79 L740.8,37.09 M742.6,37.53 L743.8,37.81 L745,38.09 L746.2,38.36 L747.4,38.61 L748.6,38.86 L749.8,39.09 L750.2,39.16 M752.2,39.5 L753.4,39.68 M755.4,39.94 L756.6,40.08 L756.7,40.08 M758.7,40.25 L759.9,40.32 L760,40.32 M761.8,40.37 L763,40.37 L764.2,40.34 L765.4,40.28 L766.5,40.2" fill="none" stroke="#ff00ff" stroke-width="1.15"/>
<rect x="452" y="145.1" width="7" height="7" fill="none" stroke="#ff0000" stroke-width="0.36"/>
<rect x="483.1" y="137.5" width="7" height="7" fill="none" stroke="#ff0000" stroke-width="0.36"/>
<rect x="514.2" y="127.5" width="7" height="7" fill="none" stroke="#ff0000" stroke-width="0.36"/>
<rect x="545.3" y="108.2" width="7" height="7" fill="none" stroke="#ff0000" stroke-width="0.36"/>
<rect x="576.4" y="101.4" width="7" height="7" fill="none" stroke="#ff0000" stroke-width="0.36"/>
<rect x="607.5" y="90.2" width="7" height="7" fill="none" stroke="#ff0000" stroke-width="0.36"/>
<rect x="638.6" y="75.8" width="7" height="7" fill="none" stroke="#ff0000" stroke-width="0.36"/>
<rect x="669.7" y="66.8" width="7" height="7" fill="none" stroke="#ff0000" stroke-width="0.36"/>
<rect x="700.8" y="62.3" width="7" height="7" fill="none" stroke="#ff0000" stroke-width="0.36"/>
<rect x="731.9" y="54.7" width="7" height="7" fill="none" stroke="#ff0000" stroke-width="0.36"/>
<rect x="763" y="50.2" width="7" height="7" fill="none" stroke="#ff0000" stroke-width="0.36"/>
<circle cx="455.5" cy="191.4" r="3.5" fill="none" stroke="#00ff00" stroke-width="0.36"/>
<circle cx="486.6" cy="175.7" r="3.5" fill="none" stroke="#00ff00" stroke-width="0.36"/>
<circle cx="517.7" cy="152.7" r="3.5" fill="none" stroke="#00ff00" stroke-width="0.36"/>
<circle cx="548.8" cy="137.4" r="3.5" fill="none" stroke="#00ff00" stroke-width="0.36"/>
<circle cx="579.9" cy="116.2" r="3.5" fill="none" stroke="#00ff00" stroke-width="0.36"/>
<circle cx="611" cy="101.8" r="3.5" fill="none" stroke="#00ff00" stroke-width="0.36"/>
<circle cx="642.1" cy="85" r="3.5" fill="none" stroke="#00ff00" stroke-width="0.36"/>
<circle cx="673.2" cy="73" r="3.5" fill="none" stroke="#00ff00" stroke-width="0.36"/>
<circle cx="704.3" cy="60.2" r="3.5" fill="none" stroke="#00ff00" stroke-width="0.36"/>
<circle cx="735.4" cy="53.3" r="3.5" fill="none" stroke="#00ff00" stroke-width="0.36"/>
<circle cx="766.5" cy="48.3" r="3.5" fill="none" stroke="#00ff00" stroke-width="0.36"/>
<circle cx="455.5" cy="227" r="3.6" fill="#0000ff"/>
<circle cx="486.6" cy="216.2" r="3.6" fill="#0000ff"/>
<circle cx="517.7" cy="201.5" r="3.6" fill="#0000ff"/>
<circle cx="548.8" cy="181.5" r="3.6" fill="#0000ff"/>
<circle cx="579.9" cy="149.5" r="3.6" fill="#0000ff"/>
<circle cx="611" cy="113.5" r="3.6" fill="#0000ff"/>
<circle cx="642.1" cy="84.2" r="3.6" fill="#0000ff"/>
<circle cx="673.2" cy="57" r="3.6" fill="#0000ff"/>
<circle cx="704.3" cy="42.9" r="3.6" fill="#0000ff"/>
<circle cx="735.4" cy="40.6" r="3.6" fill="#0000ff"/>
<circle cx="766.5" cy="38.4" r="3.6" fill="#0000ff"/>
<path d="M455.5,232.78 L452,238.45 L459,238.45 Z" fill="none" stroke="#ff00ff" stroke-width="0.36"/>
<path d="M486.6,226.78 L483.1,232.45 L490.1,232.45 Z" fill="none" stroke="#ff00ff" stroke-width="0.36"/>
<path d="M517.7,219.18 L514.2,224.85 L521.2,224.85 Z" fill="none" stroke="#ff00ff" stroke-width="0.36"/>
<path d="M548.8,192.08 L545.3,197.75 L552.3,197.75 Z" fill="none" stroke="#ff00ff" stroke-width="0.36"/>
<path d="M579.9,153.68 L576.4,159.35 L583.4,159.35 Z" fill="none" stroke="#ff00ff" stroke-width="0.36"/>
<path d="M611,98.88 L607.5,104.55 L614.5,104.55 Z" fill="none" stroke="#ff00ff" stroke-width="0.36"/>
<path d="M642.1,56.98 L638.6,62.65 L645.6,62.65 Z" fill="none" stroke="#ff00ff" stroke-width="0.36"/>
<path d="M673.2,34.58 L669.7,40.25 L676.7,40.25 Z" fill="none" stroke="#ff00ff" stroke-width="0.36"/>
<path d="M704.3,25.18 L700.8,30.85 L707.8,30.85 Z" fill="none" stroke="#ff00ff" stroke-width="0.36"/>
<path d="M735.4,32.28 L731.9,37.95 L738.9,37.95 Z" fill="none" stroke="#ff00ff" stroke-width="0.36"/>
<path d="M766.5,34.48 L763,40.15 L770,40.15 Z" fill="none" stroke="#ff00ff" stroke-width="0.36"/>
<path d="M721.6,183.4 H758.9" fill="none" stroke="#ff0000" stroke-width="1.15"/>
<rect x="736.15" y="179.9" width="7" height="7" fill="none" stroke="#ff0000" stroke-width="0.36"/>
<text x="713.5" y="188" text-anchor="end" class="s">128</text>
<path d="M721.6,197.1 H758.9" fill="none" stroke="#00ff00" stroke-width="1.15" stroke-dasharray="4.2 3.8"/>
<circle cx="739.65" cy="197.1" r="3.5" fill="none" stroke="#00ff00" stroke-width="0.36"/>
<text x="713.5" y="201.7" text-anchor="end" class="s">256</text>
<path d="M721.6,211 H758.9" fill="none" stroke="#0000ff" stroke-width="1.15" stroke-dasharray="4.8 1.5 0.6 1.5"/>
<circle cx="739.65" cy="211" r="3.6" fill="#0000ff"/>
<text x="713.5" y="215.4" text-anchor="end" class="s">512</text>
<path d="M721.6,224.65 H758.9" fill="none" stroke="#ff00ff" stroke-width="1.15" stroke-dasharray="4.6 1.1 0.8 1.1 0.8 1.1 0.8 1"/>
<path d="M739.65,220.73 L736.15,226.4 L743.15,226.4 Z" fill="none" stroke="#ff00ff" stroke-width="0.36"/>
<text x="713.5" y="229.1" text-anchor="end" class="s">1024</text>
<path d="M455.5,17.14 V236.86" stroke="#000" stroke-width="0.72" fill="none"/>
<path d="M455.14,17.5 H766.86" stroke="#000" stroke-width="0.72" fill="none"/>
<path d="M766.5,17.14 V236.86" stroke="#000" stroke-width="0.72" fill="none"/>
<path d="M455.14,236.5 H766.86" stroke="#000" stroke-width="0.72" fill="none"/>
<text x="455.5" y="255" text-anchor="middle" class="s">2</text>
<path d="M579.9,236.5 v-3.4 M579.9,17.5 v3.4" stroke="#000" stroke-width="0.55" fill="none"/>
<text x="579.9" y="255" text-anchor="middle" class="s">2.2</text>
<path d="M704.3,236.5 v-3.4 M704.3,17.5 v3.4" stroke="#000" stroke-width="0.55" fill="none"/>
<text x="704.3" y="255" text-anchor="middle" class="s">2.4</text>
<text x="447.2" y="242" text-anchor="end" class="s">0</text>
<path d="M455.5,145.5 h3.4 M766.5,145.5 h-3.4" stroke="#000" stroke-width="0.55" fill="none"/>
<text x="447.2" y="150" text-anchor="end" class="s">0.5</text>
<path d="M455.5,53.5 h3.4 M766.5,53.5 h-3.4" stroke="#000" stroke-width="0.55" fill="none"/>
<text x="447.2" y="59" text-anchor="end" class="s">1</text>
<text x="611" y="276" text-anchor="middle" class="g">λ</text>
<g transform="translate(410.5,149) rotate(-90)"><text x="0" y="0" class="s">r</text><text transform="translate(4.63,4.1) scale(1,1.13)" class="s" style="font-size:10.5px">max</text><text x="24.45" y="0" class="s">(N)</text></g>
<text x="509" y="67" class="t">(b)</text>
</svg>
</body></html>
